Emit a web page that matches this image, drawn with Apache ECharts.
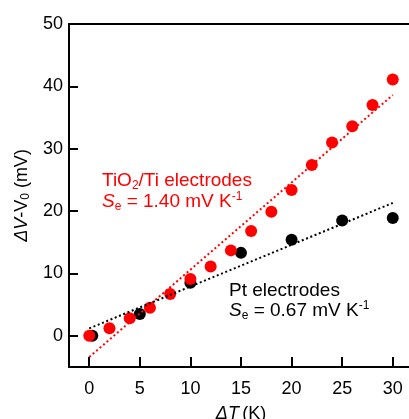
<!DOCTYPE html>
<html>
<head>
<meta charset="utf-8">
<script src="https://cdn.jsdelivr.net/npm/echarts@6/dist/echarts.min.js"></script>
<style>
  html, body { margin: 0; padding: 0; background: #fff; }
  #chart { width: 409px; height: 419px; }
</style>
</head>
<body>
<div id="chart"></div>
<script>
// TiO2/Ti electrodes (red)
var tiX = [0, 2, 4, 6, 8, 10, 12, 14, 16, 18, 20, 22, 24, 26, 28, 30];
var tiY = [0, 1.2, 2.8, 4.5, 6.7, 9.1, 11.1, 13.7, 16.8, 19.9, 23.4, 27.4, 31.0, 33.6, 37.0, 41.1];
// Pt electrodes (black)
var ptX = [0.3, 5, 10, 15, 20, 25, 30];
var ptY = [0, 3.5, 8.5, 13.3, 15.4, 18.5, 18.9];
// linear fits (end points)
var tiFitX = [0, 30];
var tiFitY = [-3.4, 38.6];
var ptFitX = [0, 30];
var ptFitY = [1.2, 21.3];

var xTicks = [0, 5, 10, 15, 20, 25, 30];
var yTicks = [0, 10, 20, 30, 40, 50];

function pairs(xs, ys) {
  var out = [];
  for (var i = 0; i < xs.length; i++) out.push([xs[i], ys[i]]);
  return out;
}

var font = 'Liberation Sans, Arial, sans-serif';
var richBase = {
  n: { fontSize: 19, lineHeight: 22, fontFamily: font },
  i: { fontSize: 19, lineHeight: 22, fontFamily: font, fontStyle: 'italic' },
  sub: { fontSize: 12, lineHeight: 12, fontFamily: font, verticalAlign: 'bottom' },
  sup: { fontSize: 12, lineHeight: 12, fontFamily: font, verticalAlign: 'top' }
};

function richFor(color) {
  var r = {};
  for (var k in richBase) {
    r[k] = Object.assign({}, richBase[k], { fill: color });
  }
  return r;
}

var chart = echarts.init(document.getElementById('chart'), null, { renderer: 'canvas' });

var axisLine = { show: true, onZero: false, lineStyle: { color: '#000', width: 2 } };
var dotted = [2, 2.6];

var option = {
  backgroundColor: '#fff',
  animation: false,
  grid: { left: 69, right: -4, top: 24, bottom: 52, containLabel: false, outerBoundsMode: 'none' },
  xAxis: [{
    type: 'value',
    min: -2, max: 32,
    position: 'bottom',
    splitLine: { show: false },
    axisLine: axisLine,
    axisTick: { show: true, inside: true, length: 10, lineStyle: { color: '#000', width: 2 },
      customValues: xTicks },
    axisLabel: { fontSize: 18, color: '#000', fontFamily: font, margin: 13,
      interval: 0, hideOverlap: false, customValues: xTicks },
    name: '{i|ΔT} {n|(K)}',
    nameLocation: 'middle',
    nameGap: 38,
    nameTextStyle: { rich: {
      n: { fontSize: 18, fontFamily: font, color: '#000' },
      i: { fontSize: 18, fontFamily: font, color: '#000', fontStyle: 'italic' }
    } }
  }, {
    type: 'value',
    min: -2, max: 32,
    position: 'top',
    splitLine: { show: false },
    axisLine: axisLine,
    axisTick: { show: false },
    axisLabel: { show: false }
  }],
  yAxis: {
    type: 'value',
    min: -5, max: 50,
    splitLine: { show: false },
    axisLine: axisLine,
    axisTick: { show: true, inside: true, length: 9, lineStyle: { color: '#000', width: 2 },
      customValues: yTicks },
    axisLabel: { fontSize: 18, color: '#000', fontFamily: font, margin: 6,
      interval: 0, hideOverlap: false, customValues: yTicks },
    name: '{i|ΔV}{n|-V}{sub|0}{n| (mV)}',
    nameLocation: 'middle',
    nameGap: 34,
    nameTextStyle: { rich: {
      n: { fontSize: 18, lineHeight: 20, fontFamily: font, color: '#000' },
      i: { fontSize: 18, lineHeight: 20, fontFamily: font, color: '#000', fontStyle: 'italic' },
      sub: { fontSize: 12, lineHeight: 12, fontFamily: font, color: '#000', verticalAlign: 'bottom' }
    } }
  },
  series: [
    {
      type: 'scatter',
      data: pairs(ptX, ptY),
      symbolSize: 12,
      itemStyle: { color: '#000', opacity: 1 },
      z: 2
    },
    {
      type: 'scatter',
      data: pairs(tiX, tiY),
      symbolSize: 12,
      itemStyle: { color: '#ff0000', opacity: 1 },
      z: 3
    },
    {
      type: 'line',
      data: pairs(tiFitX, tiFitY),
      symbol: 'none',
      lineStyle: { color: '#ff0000', width: 2, type: dotted },
      z: 4
    },
    {
      type: 'line',
      data: pairs(ptFitX, ptFitY),
      symbol: 'none',
      lineStyle: { color: '#000', width: 2, type: dotted },
      z: 4
    }
  ],
  graphic: [
    {
      type: 'text', left: 102, top: 171, z: 10,
      style: { text: '{n|TiO}{sub|2}{n|/Ti electrodes}', rich: richFor('#ff0000') }
    },
    {
      type: 'text', left: 102, top: 191, z: 10,
      style: { text: '{i|S}{sub|e}{n| = 1.40 mV K}{sup|-1}', rich: richFor('#ff0000') }
    },
    {
      type: 'text', left: 229, top: 281, z: 10,
      style: { text: '{n|Pt electrodes}', rich: richFor('#000') }
    },
    {
      type: 'text', left: 229, top: 300, z: 10,
      style: { text: '{i|S}{sub|e}{n| = 0.67 mV K}{sup|-1}', rich: richFor('#000') }
    }
  ]
};

chart.setOption(option);
</script>
</body>
</html>
